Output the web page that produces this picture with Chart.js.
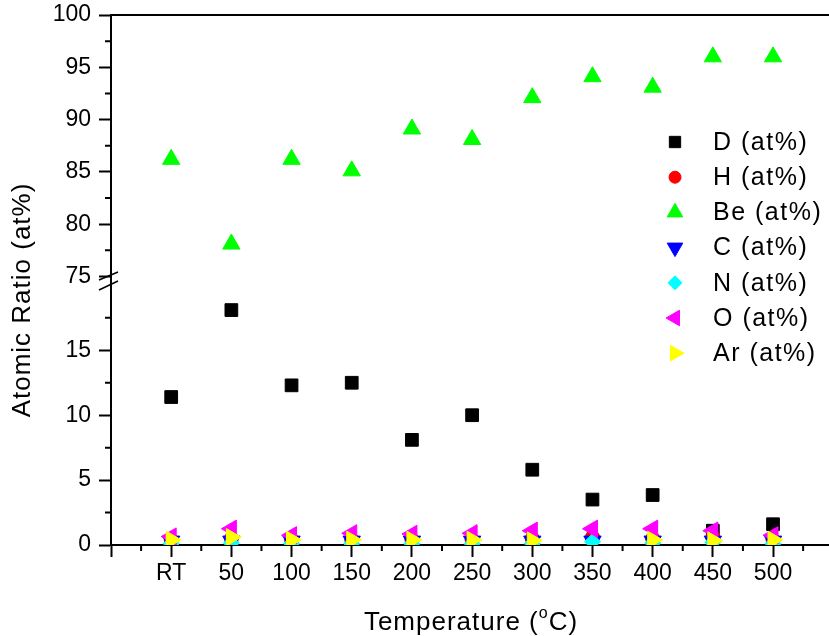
<!DOCTYPE html>
<html>
<head>
<meta charset="utf-8">
<title>Atomic Ratio vs Temperature</title>
<script src="https://cdn.jsdelivr.net/npm/chart.js@4.4.1/dist/chart.umd.min.js"></script>
<style>
  html, body { margin: 0; padding: 0; background: #fff; }
  #wrap { position: relative; width: 829px; height: 636px; }
</style>
</head>
<body>
<div id="wrap"><canvas id="ratioChart"></canvas></div>
<script>
// Temperature categories (x index 0..10)
const temperatures = ['RT', '50', '100', '150', '200', '250', '300', '350', '400', '450', '500'];

// Atomic ratio (at%) per element
const dValues  = [11.4, 18.1, 12.3, 12.5, 8.1, 10.0, 5.8, 3.5, 3.85, 1.1, 1.6];
const hValues  = [0.4, 0.5, 0.4, 0.4, 0.4, 0.4, 0.5, 0.6, 0.5, 0.6, 0.4];
const beValues = [86.2, 78.1, 86.2, 85.1, 89.1, 88.1, 92.1, 94.1, 93.1, 96.0, 96.0];
const cValues  = [0.3, 0.3, 0.3, 0.3, 0.3, 0.3, 0.3, 0.3, 0.3, 0.3, 0.3];
const nValues  = [0.1, 0.15, 0.1, 0.1, 0.1, 0.1, 0.1, 0.25, 0.15, 0.2, 0.1];
const oValues  = [0.65, 1.25, 0.75, 0.9, 0.85, 0.9, 1.1, 1.25, 1.25, 1.1, 0.75];
const arValues = [0.4, 0.6, 0.4, 0.4, 0.4, 0.4, 0.35, null, 0.4, 0.35, 0.4];

const seriesNames = ['D (at%)', 'H (at%)', 'Be (at%)', 'C (at%)', 'N (at%)', 'O (at%)', 'Ar (at%)'];

// Axis tick values
const xTicks = [-1, 0, 1, 2, 3, 4, 5, 6, 7, 8, 9, 10];
const lowerTicks = [0, 5, 10, 15];
const upperTicks = [75, 80, 85, 90, 95, 100];
const lowerMinor = [2.5, 7.5, 12.5, 17.5];
const upperMinor = [77.5, 82.5, 87.5, 92.5, 97.5];

const FONT = '"Liberation Sans", Arial, sans-serif';

function toPoints(values) {
    return values.map((v, i) => ({ x: i, y: v }));
}

const styles = [
    { color: '#000000', pointStyle: 'rect', radius: 9, rotation: 0, axis: 'y' },
    { color: '#ff0000', pointStyle: 'circle', radius: 7, rotation: 0, axis: 'y' },
    { color: '#00ff00', pointStyle: 'triangle', radius: 10, rotation: 0, axis: 'yTop' },
    { color: '#0000ff', pointStyle: 'triangle', radius: 10, rotation: 180, axis: 'y' },
    { color: '#00ffff', pointStyle: 'rectRot', radius: 8, rotation: 0, axis: 'y' },
    { color: '#ff00ff', pointStyle: 'triangle', radius: 10, rotation: 270, axis: 'y' },
    { color: '#ffff00', pointStyle: 'triangle', radius: 10, rotation: 90, axis: 'y' }
];
const seriesValues = [dValues, hValues, beValues, cValues, nValues, oValues, arValues];

const datasets = seriesValues.map((vals, i) => ({
    label: seriesNames[i],
    data: toPoints(vals),
    yAxisID: styles[i].axis,
    backgroundColor: styles[i].color,
    borderColor: styles[i].color,
    borderWidth: 1,
    pointStyle: styles[i].pointStyle,
    pointRadius: styles[i].radius,
    pointRotation: styles[i].rotation,
    showLine: false,
    order: seriesValues.length - i   // later series drawn on top, like the original
}));

// Extra decorations: minor ticks, top frame line, axis break, titles and legend
const decorPlugin = {
    id: 'decor',
    afterDraw(chart) {
        const ctx = chart.ctx;
        const area = chart.chartArea;
        const xs = chart.scales.x;
        const yLow = chart.scales.y;
        const yTop = chart.scales.yTop;

        ctx.save();
        ctx.strokeStyle = '#000';
        ctx.lineWidth = 2;

        // top frame
        ctx.beginPath();
        ctx.moveTo(area.left, area.top);
        ctx.lineTo(area.right, area.top);
        ctx.stroke();

        // minor ticks on x
        ctx.beginPath();
        for (let v = -0.5; v <= 10.5; v += 1) {
            const px = xs.getPixelForValue(v);
            ctx.moveTo(px, area.bottom);
            ctx.lineTo(px, area.bottom + 6);
        }
        // minor ticks on y
        lowerMinor.forEach(v => {
            const py = yLow.getPixelForValue(v);
            ctx.moveTo(area.left - 6, py);
            ctx.lineTo(area.left, py);
        });
        upperMinor.forEach(v => {
            const py = yTop.getPixelForValue(v);
            ctx.moveTo(area.left - 6, py);
            ctx.lineTo(area.left, py);
        });
        ctx.stroke();

        // axis break marks
        const b = yTop.bottom;
        ctx.lineWidth = 1.5;
        ctx.beginPath();
        ctx.moveTo(area.left - 12, b - 1);
        ctx.lineTo(area.left + 7, b - 9);
        ctx.moveTo(area.left - 12, b + 9);
        ctx.lineTo(area.left + 7, b);
        ctx.stroke();

        // axis titles
        ctx.fillStyle = '#000';
        ctx.letterSpacing = '1px';
        ctx.font = '26px ' + FONT;
        ctx.textBaseline = 'alphabetic';
        const part1 = 'Temperature (';
        const part3 = 'C)';
        const w1 = ctx.measureText(part1).width;
        const w3 = ctx.measureText(part3).width;
        ctx.font = '16px ' + FONT;
        const w2 = ctx.measureText('o').width;
        const total = w1 + w2 + w3;
        const tx = 471 - total / 2;
        const ty = 630;
        ctx.font = '26px ' + FONT;
        ctx.textAlign = 'left';
        ctx.fillText(part1, tx, ty);
        ctx.font = '16px ' + FONT;
        ctx.fillText('o', tx + w1, ty - 12);
        ctx.font = '26px ' + FONT;
        ctx.fillText(part3, tx + w1 + w2, ty);

        ctx.save();
        ctx.translate(23, 300);
        ctx.rotate(-Math.PI / 2);
        ctx.textAlign = 'center';
        ctx.textBaseline = 'middle';
        ctx.font = '26px ' + FONT;
        ctx.fillText('Atomic Ratio (at%)', 0, 0);
        ctx.restore();

        // legend
        ctx.letterSpacing = '1.5px';
        ctx.font = '25px ' + FONT;
        ctx.textAlign = 'left';
        ctx.textBaseline = 'middle';
        seriesNames.forEach((name, i) => {
            const ly = 142 + i * 35.2;
            ctx.fillStyle = styles[i].color;
            ctx.strokeStyle = styles[i].color;
            ctx.lineWidth = 1;
            Chart.helpers.drawPoint(ctx, {
                pointStyle: styles[i].pointStyle,
                radius: styles[i].radius - 1,
                rotation: styles[i].rotation,
                borderWidth: 1
            }, 675, ly);
            ctx.fillStyle = '#000';
            ctx.fillText(name, 713, ly + 1);
        });
        ctx.restore();
    }
};

const tickFont = { family: FONT, size: 23 };

// keep the axes from reserving extra room for half-labels at their ends
function noEndPadding(axis) {
    axis.paddingTop = 0;
    axis.paddingBottom = 0;
    axis.paddingLeft = 0;
    axis.paddingRight = 0;
}

new Chart(document.getElementById('ratioChart'), {
    type: 'scatter',
    data: { datasets: datasets },
    options: {
        responsive: true,
        maintainAspectRatio: false,
        animation: false,
        events: [],
        layout: { autoPadding: false, padding: { top: 15, left: 0, right: 0, bottom: 0 } },
        plugins: {
            legend: { display: false },
            tooltip: { enabled: false }
        },
        scales: {
            x: {
                type: 'linear',
                min: -1,
                max: 10.93,
                afterBuildTicks: axis => { axis.ticks = xTicks.map(v => ({ value: v })); },
                afterFit: axis => { axis.height = 91; noEndPadding(axis); },
                ticks: {
                    autoSkip: false,
                    maxRotation: 0,
                    padding: 3,
                    color: '#000',
                    font: tickFont,
                    callback: v => (v >= 0 && v < temperatures.length ? temperatures[v] : '')
                },
                grid: { drawOnChartArea: false, tickLength: 12, tickWidth: 2, tickColor: '#000' },
                border: { display: true, color: '#000', width: 2 }
            },
            y: {
                type: 'linear',
                position: 'left',
                stack: 'ratio',
                stackWeight: 264,
                min: 0,
                max: 20.34,
                afterBuildTicks: axis => { axis.ticks = lowerTicks.map(v => ({ value: v })); },
                afterFit: axis => { axis.width = 111; noEndPadding(axis); },
                ticks: { autoSkip: false, padding: 8, color: '#000', font: tickFont },
                grid: { drawOnChartArea: false, tickLength: 12, tickWidth: 2, tickColor: '#000' },
                border: { display: true, color: '#000', width: 2 }
            },
            yTop: {
                type: 'linear',
                position: 'left',
                stack: 'ratio',
                stackWeight: 266,
                min: 74.57,
                max: 100,
                afterBuildTicks: axis => { axis.ticks = upperTicks.map(v => ({ value: v })); },
                afterFit: axis => { axis.width = 111; noEndPadding(axis); },
                ticks: { autoSkip: false, padding: 8, color: '#000', font: tickFont },
                grid: { drawOnChartArea: false, tickLength: 12, tickWidth: 2, tickColor: '#000' },
                border: { display: true, color: '#000', width: 2 }
            }
        }
    },
    plugins: [decorPlugin]
});
</script>
</body>
</html>
